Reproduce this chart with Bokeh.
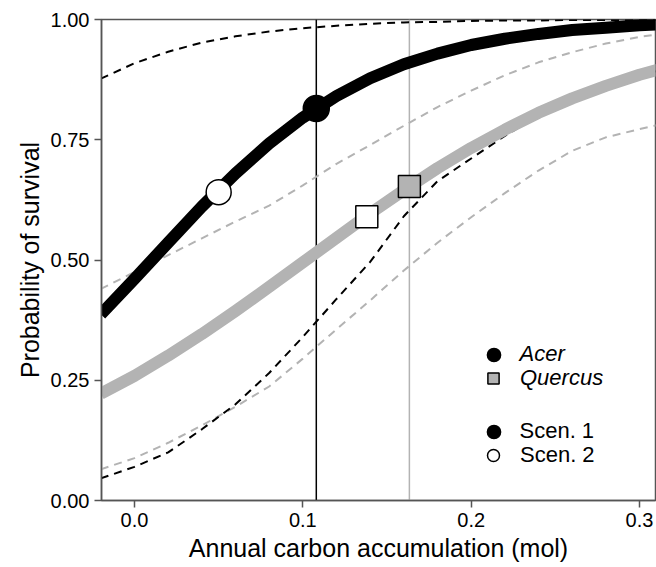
from bokeh.plotting import figure
from bokeh.models import (Range1d, FixedTicker, NumeralTickFormatter, Span,
                          Legend, LegendItem)
from bokeh.embed import file_html
from bokeh.resources import INLINE

# Annual carbon accumulation (mol) at which the fitted survival curves are evaluated
carbon = [-0.02, 0.00, 0.02, 0.04, 0.06, 0.08, 0.10, 0.12, 0.14, 0.16,
          0.18, 0.20, 0.22, 0.24, 0.26, 0.28, 0.30, 0.32]

# Acer: fitted probability of survival and its confidence band
acer_fit = [0.387, 0.461, 0.536, 0.611, 0.680, 0.742, 0.796, 0.841, 0.878, 0.907,
            0.929, 0.947, 0.960, 0.970, 0.978, 0.983, 0.988, 0.991]
acer_upper = [0.877, 0.909, 0.933, 0.952, 0.965, 0.975, 0.982, 0.987, 0.991, 0.994,
              0.995, 0.997, 0.998, 0.998, 0.999, 0.999, 0.999, 1.000]
acer_lower = [0.046, 0.070, 0.100, 0.148, 0.200, 0.265, 0.340, 0.419, 0.496, 0.591,
              0.664, 0.711, 0.758, 0.800, 0.832, 0.860, 0.883, 0.902]

# Quercus: fitted probability of survival and its confidence band
quercus_fit = [0.222, 0.259, 0.301, 0.346, 0.394, 0.444, 0.495, 0.546, 0.597, 0.645,
               0.691, 0.733, 0.771, 0.806, 0.836, 0.862, 0.885, 0.904]
quercus_upper = [0.440, 0.475, 0.510, 0.545, 0.580, 0.613, 0.655, 0.700, 0.739, 0.779,
                 0.818, 0.852, 0.884, 0.911, 0.932, 0.950, 0.964, 0.973]
quercus_lower = [0.065, 0.088, 0.120, 0.156, 0.195, 0.237, 0.295, 0.356, 0.416, 0.478,
                 0.536, 0.589, 0.639, 0.686, 0.727, 0.755, 0.772, 0.788]

# Mean annual carbon accumulation of each genus (scenario 1)
acer_mean_carbon = 0.108
quercus_mean_carbon = 0.1633

# Scenario points: (carbon, survival)
acer_scen1 = ([0.108], [0.815])
acer_scen2 = ([0.050], [0.641])
quercus_scen1 = ([0.1633], [0.653])
quercus_scen2 = ([0.138], [0.590])

x_ticks = [0.0, 0.1, 0.2, 0.3]
y_ticks = [0.0, 0.25, 0.5, 0.75, 1.0]

BLACK = "black"
GREY = "#b3b3b3"
FRAME = "#555555"
FONT = "Liberation Sans"

p = figure(width=656, height=567, output_backend="svg", toolbar_location=None,
           x_range=Range1d(-0.0196, 0.3095), y_range=Range1d(0, 1),
           min_border_left=101, min_border_right=1, min_border_top=19,
           min_border_bottom=67, background_fill_color="white",
           border_fill_color="white")
p.xgrid.visible = False
p.ygrid.visible = False
p.outline_line_color = FRAME
p.outline_line_width = 1.5

# confidence bands (dashed)
p.line(carbon, quercus_upper, line_color=GREY, line_width=2, line_dash="8 6")
p.line(carbon, quercus_lower, line_color=GREY, line_width=2, line_dash="8 6")
p.line(carbon, acer_upper, line_color=BLACK, line_width=2, line_dash="8 6")
p.line(carbon, acer_lower, line_color=BLACK, line_width=2, line_dash="8 6")

# mean carbon accumulation of each genus
p.add_layout(Span(location=acer_mean_carbon, dimension="height", line_color=BLACK,
                  line_width=1.5, level="underlay"))
p.add_layout(Span(location=quercus_mean_carbon, dimension="height", line_color=GREY,
                  line_width=1.5, level="underlay"))

# fitted curves
p.line(carbon, quercus_fit, line_color=GREY, line_width=12, line_join="round")
p.line(carbon, acer_fit, line_color=BLACK, line_width=12, line_join="round")

# scenario points
r_a1 = p.scatter(acer_scen1[0], acer_scen1[1], marker="circle", size=26,
                 fill_color=BLACK, line_color=BLACK, line_width=1.5)
r_a2 = p.scatter(acer_scen2[0], acer_scen2[1], marker="circle", size=25,
                 fill_color="white", line_color=BLACK, line_width=1.5)
r_q1 = p.scatter(quercus_scen1[0], quercus_scen1[1], marker="square", size=22,
                 fill_color=GREY, line_color=BLACK, line_width=1.5)
r_q2 = p.scatter(quercus_scen2[0], quercus_scen2[1], marker="square", size=22,
                 fill_color="white", line_color=BLACK, line_width=1.5)

# axes
for ax in (p.xaxis[0], p.yaxis[0]):
    ax.axis_line_color = FRAME
    ax.axis_line_width = 1.5
    ax.major_tick_line_color = FRAME
    ax.major_tick_line_width = 1.5
    ax.major_tick_out = 7
    ax.major_tick_in = 0
    ax.minor_tick_line_color = None
    ax.major_label_text_font = FONT
    ax.major_label_text_font_size = "20px"
    ax.major_label_text_color = "black"
    ax.axis_label_text_font = FONT
    ax.axis_label_text_font_size = "25px"
    ax.axis_label_text_font_style = "normal"
    ax.axis_label_text_color = "black"
    ax.major_label_standoff = 5
    ax.axis_label_standoff = 4

p.xaxis.ticker = FixedTicker(ticks=x_ticks)
p.yaxis.ticker = FixedTicker(ticks=y_ticks)
p.xaxis.formatter = NumeralTickFormatter(format="0.0")
p.yaxis.formatter = NumeralTickFormatter(format="0.00")
p.xaxis.axis_label = "Annual carbon accumulation (mol)"
p.yaxis.axis_label = "Probability of survival"


# one single-entry legend per key, so each key sits on its own row
def key(label, renderer, center_y, glyph, style):
    bottom = 500 - (center_y + glyph / 2)
    left = 493 - glyph / 2 - 101
    leg = Legend(items=[LegendItem(label=label, renderers=[renderer])],
                 location=(left, bottom), orientation="vertical",
                 glyph_width=glyph, glyph_height=glyph, label_height=glyph,
                 spacing=0, label_standoff=int(520 - (493 + glyph / 2)),
                 padding=0, margin=0, border_line_color=None,
                 background_fill_alpha=0, label_text_font=FONT,
                 label_text_font_size="22px", label_text_font_style=style,
                 label_text_color="black")
    p.add_layout(leg)


key("Acer", r_a1, 354, 33, "italic")
key("Quercus", r_q1, 378, 28, "italic")
key("Scen. 1", r_a1, 431, 33, "normal")
key("Scen. 2", r_a2, 455, 30, "normal")

open("out.html", "w").write(file_html(p, INLINE))
